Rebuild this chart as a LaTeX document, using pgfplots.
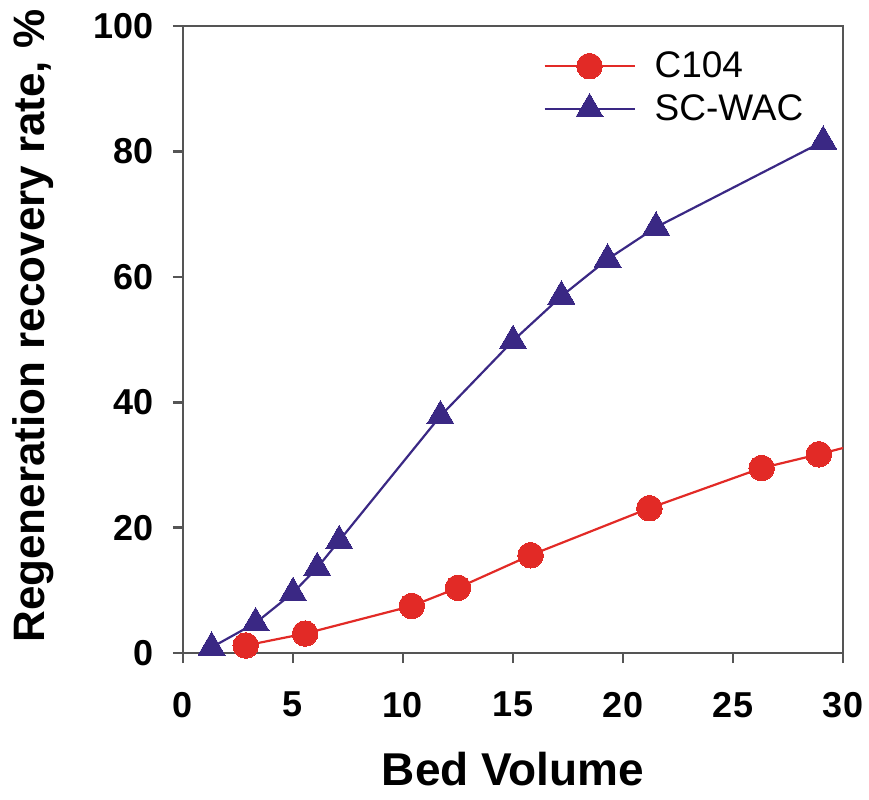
\documentclass[border=0pt]{standalone}
\usepackage{pgfplots}
\pgfplotsset{compat=1.18}
\usepackage{fontspec}
\setmainfont{Liberation Sans}
\definecolor{cred}{RGB}{226,42,38}
\definecolor{cind}{RGB}{58,40,132}
\definecolor{axgray}{RGB}{85,85,85}
\begin{document}
\begin{tikzpicture}
\begin{axis}[
  name=ax,
  scale only axis,
  width=330pt, height=313.5pt,
  xmin=0, xmax=30, ymin=0, ymax=100,
  xtick={0,5,...,30}, ytick={0,20,...,100},
  axis line style={axgray, line width=1.3pt},
  tick style={axgray, line width=1.3pt},
  tick align=outside, major tick length=5pt,
  xtick pos=bottom, ytick pos=left,
  /pgf/number format/assume math mode=true,
  ticklabel style={font=\fontsize{18}{18}\selectfont\bfseries},
  xticklabel style={yshift=-11pt},
  yticklabel style={xshift=-6pt},
  xlabel={Bed Volume},
  ylabel={Regeneration recovery rate, \%},
  xlabel style={font=\fontsize{23}{23}\selectfont\bfseries, at={(axis description cs:0.5,-0.2105)}, anchor=base},
  ylabel style={font=\fontsize{22}{22}\selectfont\bfseries, at={(axis description cs:-0.2106,0.5215)}, anchor=base},
  legend style={draw=none, fill=none, at={(axis description cs:0.5455,0.966)}, anchor=north west,
    font=\fontsize{18.5}{18.5}\selectfont, row sep=3pt, inner sep=0pt,
    /tikz/every odd column/.append style={column sep=7.5pt}},
  legend cell align=left,
  legend image code/.code={\draw[#1, mark repeat=2, mark phase=2] plot coordinates {(0pt,0pt)(22.5pt,0pt)(45pt,0pt)};},
]
\addplot[cred, line width=1.1pt, mark=*, mark size=6.4pt, mark options={fill=cred, draw=cred, line width=0pt}]
 coordinates {(2.85,1.2)(5.55,3.1)(10.4,7.5)(12.5,10.4)(15.8,15.6)(21.2,23.1)(26.3,29.5)(28.9,31.7)};
\addlegendentry{C104}
\addplot[cind, line width=1.1pt, mark=triangle*, mark size=7.8pt, mark options={fill=cind, draw=cind, line width=0pt}]
 coordinates {(1.3,0.9)(3.3,4.8)(5.0,9.6)(6.1,13.6)(7.1,17.9)(11.7,37.8)(15.0,49.8)(17.2,56.9)(19.3,62.8)(21.5,67.9)(29.1,81.6)};
\addlegendentry{SC-WAC}
\addplot[cred, line width=1.1pt, forget plot] coordinates {(28.9,31.7)(31,33.6)};
\end{axis}
\pgfresetboundingbox
\path ([shift={(-91.5pt,-73pt)}]ax.south west) rectangle ([shift={(13pt,13pt)}]ax.north east);
\end{tikzpicture}
\end{document}
